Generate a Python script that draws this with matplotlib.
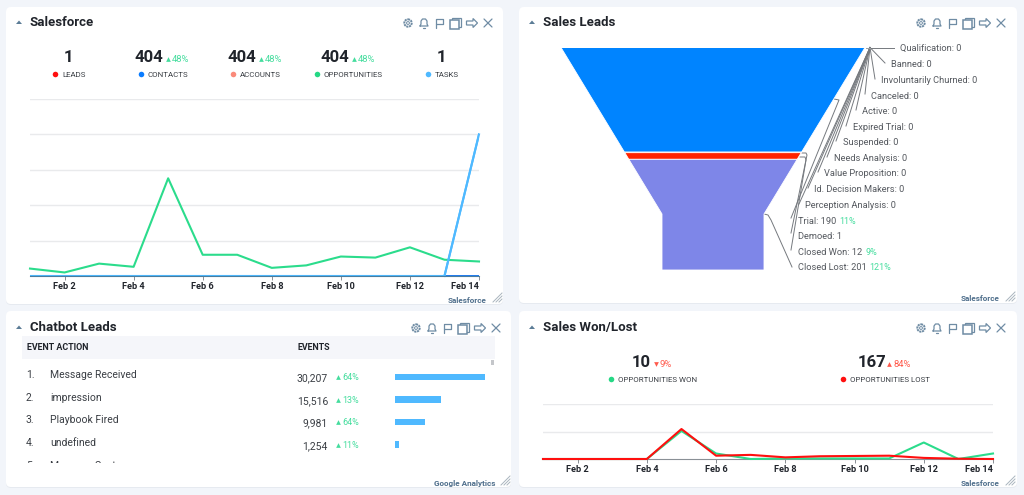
import matplotlib
matplotlib.use("Agg")
import matplotlib.pyplot as plt
from matplotlib.patches import FancyBboxPatch, Rectangle, Polygon, Circle
import numpy as np

plt.rcParams['font.family'] = ['Roboto', 'DejaVu Sans']

# ---- data ----
days = list(range(1, 15))
tick_days = [2, 4, 6, 8, 10, 12, 14]
tick_labels = ['Feb 2', 'Feb 4', 'Feb 6', 'Feb 8', 'Feb 10', 'Feb 12', 'Feb 14']

sf_leads = [0] * 14
sf_contacts = [0] * 14
sf_accounts = [0] * 14
sf_opportunities = [.21, .10, .35, .26, 2.76, .60, .60, .23, .30, .55, .52, .81, .46, .41]
sf_tasks = [0, 0, 0, 0, 0, 0, 0, 0, 0, 0, 0, 0, 0, 4]

won = [0, 0, 0, 0, 1.02, .20, 0, .02, .02, .02, .02, .60, 0, .20]
lost = [0, 0, 0, 0, 1.09, .12, .15, .06, .10, .11, .12, .04, .01, 0]

kpi_labels = ['LEADS', 'CONTACTS', 'ACCOUNTS', 'OPPORTUNITIES', 'TASKS']
kpi_values = ['1', '404', '404', '404', '1']
kpi_changes = [None, '48%', '48%', '48%', None]

stage_names = ['Trial', 'Demoed', 'Closed Won', 'Closed Lost']
stage_values = [190, 1, 12, 201]
stage_labels = ['Trial: 190', 'Demoed: 1', 'Closed Won: 12', 'Closed Lost: 201']
stage_changes = ['11%', None, '9%', '121%']
zero_labels = ['Qualification: 0', 'Banned: 0', 'Involuntarily Churned: 0', 'Canceled: 0',
               'Active: 0', 'Expired Trial: 0', 'Suspended: 0', 'Needs Analysis: 0',
               'Value Proposition: 0', 'Id. Decision Makers: 0', 'Perception Analysis: 0']

event_names = ['Message Received', 'impression', 'Playbook Fired', 'undefined']
event_values = [30207, 15516, 9981, 1254]
event_changes = ['64%', '13%', '64%', '11%']

# ---- colours ----
BG = '#f2f5fa'
GREEN = '#2bdc8c'
PCT = '#45dd9e'
RED = '#ff0f0f'
BLUE = '#0a7cff'
SALMON = '#fa8a7a'
SKY = '#4fb9ff'
INK = '#20242b'
ICON = '#6f8ca4'
GRID = '#e9eaec'
W, H = 1024, 495

fig = plt.figure(figsize=(W / 100, H / 100), dpi=100, facecolor=BG)
ov = fig.add_axes([0, 0, 1, 1], zorder=0)
ov.set_xlim(0, W)
ov.set_ylim(H, 0)
ov.axis('off')


def px_axes(x0, y0, x1, y1):
    a = fig.add_axes([x0 / W, 1 - y1 / H, (x1 - x0) / W, (y1 - y0) / H], zorder=2)
    a.patch.set_alpha(0)
    return a


def fs(px):
    return px * 0.72


def txt(x, y, s, **kw):
    kw.setdefault('va', 'center')
    kw.setdefault('ha', 'left')
    kw.setdefault('zorder', 3)
    return ov.text(x, y + 0.8, s, **kw)


def panel(x0, y0, x1, y1):
    ov.add_patch(FancyBboxPatch((x0, y0 + 1), x1 - x0, y1 - y0,
                                boxstyle='round,pad=0,rounding_size=5',
                                fc='#e6eaf0', ec='none', zorder=0.5))
    ov.add_patch(FancyBboxPatch((x0, y0), x1 - x0, y1 - y0,
                                boxstyle='round,pad=0,rounding_size=5',
                                fc='white', ec='none', zorder=1))


def icons(dx, cy):
    c = ICON
    k = dict(color=c, lw=0.9, zorder=3, solid_capstyle='round')
    x = 408 + dx
    ov.add_patch(Circle((x, cy), 3.7, fc='none', ec=c, lw=1.4, ls=(0, (1.1, 0.35)), zorder=3))
    ov.add_patch(Circle((x, cy), 1.4, fc='none', ec=c, lw=0.7, zorder=3))
    x = 424 + dx
    ov.plot([x - 4, x - 3, x - 3, x - 1.5, x + 1.5, x + 3, x + 3, x + 4, x - 4],
            [cy + 3, cy + 1, cy - 2, cy - 4, cy - 4, cy - 2, cy + 1, cy + 3, cy + 3], **k)
    ov.plot([x - 1, x + 1], [cy + 4.7, cy + 4.7], **k)
    x = 439 + dx
    ov.plot([x - 3.5, x - 3.5, x + 4, x + 4, x - 3.5],
            [cy + 5, cy - 4, cy - 4, cy + 1, cy + 1], **k)
    x = 455 + dx
    ov.add_patch(Rectangle((x - 3.5, cy - 5), 9, 9, fc='none', ec=c, lw=0.9, zorder=3))
    ov.add_patch(Rectangle((x - 5.5, cy - 3), 9, 9, fc='white', ec=c, lw=1.1, zorder=3.1))
    x = 472 + dx
    ov.add_patch(Polygon([(x - 5.5, cy - 2), (x + 1, cy - 2), (x + 1, cy - 4.5), (x + 5.5, cy),
                          (x + 1, cy + 4.5), (x + 1, cy + 2), (x - 5.5, cy + 2)],
                         closed=True, fc='none', ec=c, lw=0.9, zorder=3))
    x = 488 + dx
    ov.plot([x - 4, x + 4], [cy - 4, cy + 4], **k)
    ov.plot([x - 4, x + 4], [cy + 4, cy - 4], **k)


def header(title, tx, cy, icon_dx):
    ov.add_patch(Polygon([(tx - 14, cy + 2), (tx - 8, cy + 2), (tx - 11, cy - 1.5)],
                         closed=True, fc='#5b7c96', ec='none', zorder=3))
    txt(tx, cy, title, fontsize=fs(13.2), color=INK, fontweight='bold')
    icons(icon_dx, cy + 1)


def footer(name, xr, y, hx, hy):
    txt(xr, y, name, fontsize=fs(8.2), color='#4f6f8c', fontweight='bold', ha='right')
    for o in (0, 3, 6):
        ov.plot([hx + o, hx + 9], [hy + 9, hy + o], color='#a9b4be', lw=0.7, zorder=3)


def kpi(value, label, colour, vx, vy, lx, ly, change=None, cx=None, ccol=PCT, down=False, vsize=16.8):
    txt(vx, vy, value, fontsize=fs(vsize), fontweight='bold', color=INK, ha='center')
    ov.plot([lx], [ly], 'o', ms=4, color=colour, mec='none', zorder=3)
    txt(lx + 7, ly, label, fontsize=fs(7.9), color='#3a3e44')
    if change:
        pct(cx, vy + 2, change, ccol, down, 9.5)


def pct(x, y, text, colour, down=False, size=9):
    ov.plot([x + 2], [y], 'v' if down else '^', ms=3.4, color=colour, mec='none', zorder=3)
    txt(x + 6, y, text, fontsize=fs(size), color=colour)


def line_axes(x0, y0, x1, y1, ymax):
    a = px_axes(x0, y0, x1, y1)
    a.set_xlim(1, 14)
    a.set_ylim(0, ymax)
    a.set_yticks(range(1, ymax + 1))
    a.set_xticks(tick_days)
    a.set_xticklabels(tick_labels, fontsize=fs(9.2), fontweight='bold', color=INK)
    a.get_xticklabels()[-1].set_ha('right')
    a.tick_params(axis='x', length=3, width=0.7, color='#8a8f95', pad=1.5)
    a.tick_params(axis='y', length=0, labelleft=False)
    a.grid(axis='y', color=GRID, lw=1.0)
    a.set_axisbelow(True)
    for s in ('top', 'left', 'right'):
        a.spines[s].set_visible(False)
    a.spines['bottom'].set_color('#8a9096')
    a.spines['bottom'].set_linewidth(0.8)
    return a


# ---- panels ----
panel(6, 7, 503, 304)
panel(519, 7, 1017, 303)
panel(6, 311, 511, 487)
panel(519, 311, 1017, 487)

header('Salesforce', 30, 22, 0)
header('Sales Leads', 543, 22, 513)
header('Chatbot Leads', 30, 327, 8)
header('Sales Won/Lost', 543, 327, 513)

footer('Salesforce', 487, 299.5, 493, 293)
footer('Salesforce', 1000, 298, 1006, 292)
footer('Google Analytics', 495, 483, 501, 476)
footer('Salesforce', 1000, 483, 1006, 476)

# ---- Salesforce ----
kpi_vx = [68, 148.5, 241.5, 334.5, 441]
kpi_lx = [55, 141, 233, 317, 428]
kpi_cols = [RED, BLUE, SALMON, '#25d885', SKY]
kpi_cx = [None, 166, 259, 352, None]
for v, l, c, vx, lx, ch, cx in zip(kpi_values, kpi_labels, kpi_cols, kpi_vx, kpi_lx, kpi_changes, kpi_cx):
    kpi(v, l, c, vx, 57, lx, 74, ch, cx)

a1 = line_axes(30, 99, 479, 276, 5)
for series, col in ((sf_leads, RED), (sf_accounts, SALMON), (sf_contacts, BLUE)):
    a1.plot(days, series, color=col, lw=1.3)
a1.plot(days, sf_opportunities, color=GREEN, lw=1.5, clip_on=False, zorder=4)
a1.plot(days, sf_tasks, color=SKY, lw=1.5, clip_on=True, zorder=5)
a1.plot(days[-2:], sf_tasks[-2:], color=SKY, lw=1.5, clip_on=False, zorder=5)
a1.spines['bottom'].set_color('#4a7d9e')
a1.spines['bottom'].set_zorder(6)

# ---- Funnel ----
FX0, FX1, FY0, FY1 = 561, 865, 47.5, 270
NECK_WIDTH = 102 / 304
NECK_AT = (214 - FY0) / (FY1 - FY0)
total = sum(stage_values)
f = px_axes(FX0, FY0, FX1, FY1)
f.set_xlim(-0.5, 0.5)
f.set_ylim(total, 0)
f.axis('off')


def half(v):
    t = v / total
    if t >= NECK_AT:
        return NECK_WIDTH / 2
    return 0.5 - (0.5 - NECK_WIDTH / 2) * t / NECK_AT


fun_cols = ['#0084ff', '#ff2200', '#ff2200', '#7e86e8']
edges = np.cumsum([0] + stage_values)
for i, col in enumerate(fun_cols):
    a, b = edges[i], edges[i + 1]
    ys = [a, b] if not (a < NECK_AT * total < b) else [a, NECK_AT * total, b]
    pts = [(-half(y), y) for y in ys] + [(half(y), y) for y in reversed(ys)]
    f.add_patch(Polygon(pts, closed=True, fc=col, ec='white', lw=0.6))

LBL = '#55595f'
zero_xy = [(900, 48), (891, 64), (881, 79.5), (871, 95.5), (862, 111), (853, 127),
           (843, 142), (834, 158), (824, 173), (814, 189), (805, 205)]
for name, (x, y) in zip(zero_labels, zero_xy):
    txt(x, y, name, fontsize=fs(9.3), color=LBL)
ends = [(894, 47.5), (885, 63), (875, 79), (865, 94), (856, 110), (846, 126),
        (836, 141), (827, 157), (818, 172), (808, 188), (799, 204)]
for ex, ey in ends:
    ov.plot([870, ex], [47.5, ey], color='#75797e', lw=0.7, zorder=2.5)
ov.plot([866, 870], [47.5, 47.5], color='#9a9da0', lw=0.7, zorder=2.5)

stage_y = [221, 236, 252, 267]
for name, ch, y in zip(stage_labels, stage_changes, stage_y):
    t = txt(798, y, name, fontsize=fs(9.3), color=LBL)
    if ch:
        r = t.get_window_extent(renderer=fig.canvas.get_renderer())
        txt(r.x1 + 3, y, ch, fontsize=fs(9), color=PCT)
ov.plot([791, 839, 834], [218, 100, 99], color='#75797e', lw=0.7, zorder=2.5)
ov.plot([791, 807, 806, 802], [233, 155, 153, 153], color='#75797e', lw=0.7, zorder=2.5)
ov.plot([791, 806, 805, 800], [250, 160, 157, 157], color='#75797e', lw=0.7, zorder=2.5)
ov.plot([792, 771, 768, 764], [267, 220, 215, 214], color='#75797e', lw=0.7, zorder=2.5)

# ---- Chatbot table ----
ov.add_patch(Rectangle((22, 336), 473, 23, fc='#f5f6fa', ec='none', zorder=2))
txt(27, 347, 'EVENT ACTION', fontsize=fs(8.9), fontweight='bold', color=INK)
txt(297, 347, 'EVENTS', fontsize=fs(8.9), fontweight='bold', color=INK)
ov.add_patch(Rectangle((491, 360), 2.5, 5, fc='#c4c6ca', ec='none', zorder=3))
row_y = [374, 397, 419, 442]
for i, (name, val, ch, y) in enumerate(zip(event_names, event_values, event_changes, row_y)):
    txt(26, y, f'{i + 1}.', fontsize=fs(10.4), color='#3a3e44')
    txt(50, y, name, fontsize=fs(10.4), color='#3a3e44')
    txt(328, y + 3, f'{val:,}', fontsize=fs(10.4), color='#3a3e44', ha='right')
    pct(336, y + 3, ch, PCT, size=9)
clip = Rectangle((0, 0), W, 463, transform=ov.transData)
for x, s in ((26, '5.'), (50, 'Message Sent')):
    t = txt(x, 465, s, fontsize=fs(10.4), color='#3a3e44', clip_on=True)
    t.set_clip_path(clip)

b = px_axes(395, 365.75, 485, 455.75)
b.set_xlim(0, max(event_values))
b.set_ylim(3.5, -0.5)
b.barh(range(4), event_values, height=0.3, color=SKY)
b.axis('off')

# ---- Sales Won/Lost ----
RED2 = '#ff5a4c'
kpi('10', 'OPPORTUNITIES WON', '#25d885', 641, 362, 611, 379, '9%', 654, RED2, True)
kpi('167', 'OPPORTUNITIES LOST', RED, 872, 362, 843, 379, '84%', 887, RED2, False)
a4 = line_axes(543, 404, 993, 459, 2)
a4.plot(days, won, color=GREEN, lw=1.5, clip_on=False, zorder=4)
a4.plot(days, lost, color=RED, lw=1.5, clip_on=False, zorder=5)

fig.savefig('out.png', dpi=100, facecolor=BG)
